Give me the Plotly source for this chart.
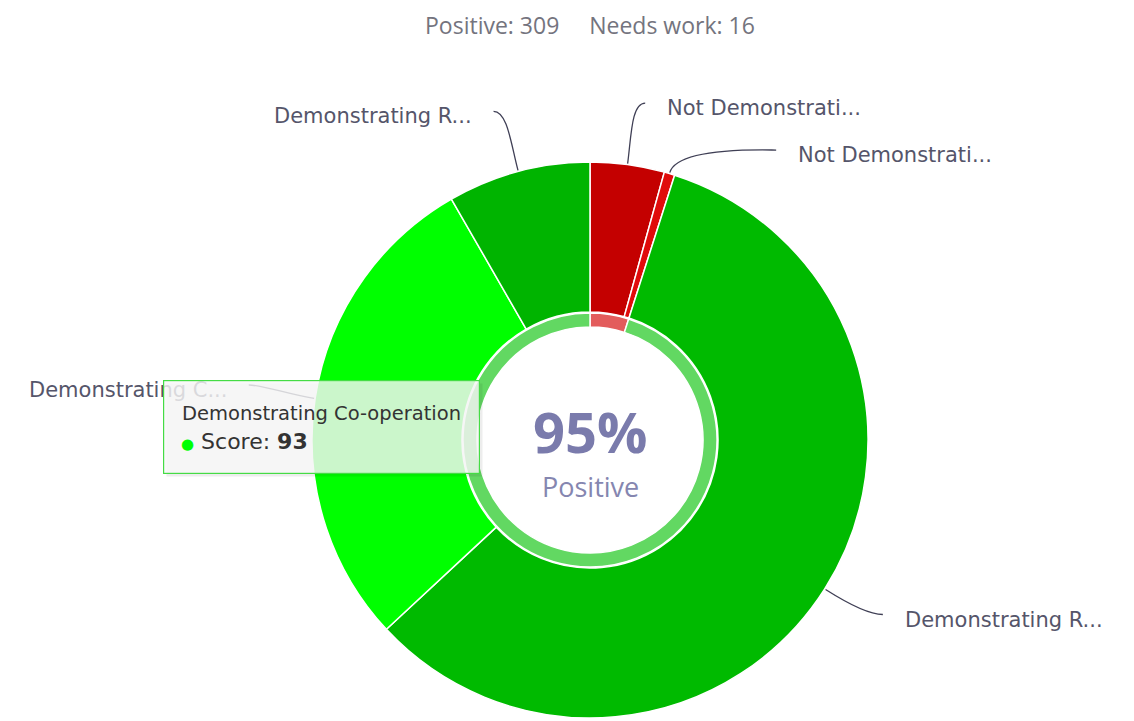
import math
import plotly.graph_objects as go

# slices in drawing order, clockwise from 12 o'clock
categories = ["Not Demonstrati...", "Not Demonstrati...", "Demonstrating R...",
              "Demonstrating C...", "Demonstrating R..."]
scores = [14, 2, 189, 93, 27]
is_positive = [False, False, True, True, True]

# the slice under the mouse in the screenshot
hover_index = 3
hover_name = "Demonstrating Co-operation"

slice_colors = ["#c40000", "#e00b0b", "#00ba00", "#00ff00", "#00b400"]
ring_colors = ["#e35c5c", "#62d862"]  # needs work, positive

# page pixels (the html body has an 8px margin)
PAGE_OFF = 8
W, H = 1134 - PAGE_OFF, 721 - PAGE_OFF
CX, CY = 590, 440
R_OUT, R_HOLE, R_RING_IN = 278, 128, 113
R_LABEL = 335
LABEL_GAP = 47
FONT = "DejaVu Sans"
HEAD_FONT = "Open Sans"
LABEL_COLOR = "#55556a"
CENTER_COLOR = "#7a7bac"


def px(x):
    return (x - PAGE_OFF) / W


def py(y):
    return 1 - (y - PAGE_OFF) / H


total = sum(scores)
n_pos = sum(s for s, p in zip(scores, is_positive) if p)
n_neg = total - n_pos
pct = round(100 * n_pos / total)

fig = go.Figure()

# main donut
fig.add_trace(go.Pie(
    values=scores, sort=False, direction="clockwise", rotation=0,
    hole=R_HOLE / R_OUT,
    marker=dict(colors=slice_colors, line=dict(color="white", width=1.5)),
    textinfo="none", hoverinfo="skip", showlegend=False,
    domain=dict(x=[px(CX - R_OUT), px(CX + R_OUT)], y=[py(CY + R_OUT), py(CY - R_OUT)]),
))
# thin inner ring: needs work vs positive
fig.add_trace(go.Pie(
    values=[n_neg, n_pos], sort=False, direction="clockwise", rotation=0,
    hole=R_RING_IN / (R_HOLE - 1),
    marker=dict(colors=ring_colors, line=dict(color="white", width=1.5)),
    textinfo="none", hoverinfo="skip", showlegend=False,
    domain=dict(x=[px(CX - R_HOLE + 1), px(CX + R_HOLE - 1)],
                y=[py(CY + R_HOLE - 1), py(CY - R_HOLE + 1)]),
))

# label placement (highcharts-like, labels pushed apart vertically)
mids = []
acc = 0
for v in scores:
    mids.append(math.radians((acc + v / 2) / total * 360))
    acc += v

label_y = [CY - R_LABEL * math.cos(a) for a in mids]
for right_side in (True, False):
    idx = [i for i, a in enumerate(mids) if (math.sin(a) >= 0) == right_side]
    idx.sort(key=lambda i: label_y[i])
    for j in range(1, len(idx)):
        label_y[idx[j]] = max(label_y[idx[j]], label_y[idx[j - 1]] + LABEL_GAP)

annotations = []
shapes = []
for i, a in enumerate(mids):
    sgn = 1 if math.sin(a) >= 0 else -1
    ly = label_y[i]
    dy = ly - CY
    lx = CX + sgn * (math.sqrt(max(R_LABEL ** 2 - dy ** 2, 0)) + 10)
    ex, ey = CX + (R_OUT + 1) * math.sin(a), CY - (R_OUT + 1) * math.cos(a)
    bx, by = CX + (R_OUT + 28) * math.sin(a), CY - (R_OUT + 28) * math.cos(a)
    endy = ly - 5
    path = (f"M {px(ex)},{py(ey)} C {px(bx)},{py(by)} "
            f"{px(lx - sgn * 14)},{py(endy)} {px(lx)},{py(endy)}")
    shapes.append(dict(type="path", path=path, xref="paper", yref="paper",
                       line=dict(color="#3f3f55", width=1.3), layer="above"))
    annotations.append(dict(
        text=categories[i], x=px(lx + sgn * 20), y=py(ly), xref="paper", yref="paper",
        xanchor="left" if sgn > 0 else "right", yanchor="middle", showarrow=False,
        font=dict(family=FONT, size=21, color=LABEL_COLOR),
    ))

# heading
annotations.append(dict(
    text=f"Positive: {n_pos}\u00a0\u00a0\u00a0\u00a0\u00a0Needs work: {n_neg}",
    x=px(CX), y=1, xref="paper", yref="paper",
    xanchor="center", yanchor="top", showarrow=False, borderpad=0,
    font=dict(family=HEAD_FONT, size=23, color="#74747e"),
))

# centre text
annotations.append(dict(
    text=f"<b>{pct}%</b>", x=px(CX), y=py(431), xref="paper", yref="paper",
    xanchor="center", yanchor="middle", showarrow=False,
    font=dict(family=HEAD_FONT, size=56, color=CENTER_COLOR),
))
annotations.append(dict(
    text="Positive", x=px(CX), y=py(487), xref="paper", yref="paper",
    xanchor="center", yanchor="middle", showarrow=False,
    font=dict(family=HEAD_FONT, size=27, color="#8586b0"),
))

# tooltip (shadow, box, text)
TIP_L, TIP_T, TIP_W, TIP_H = 163, 380, 317, 94
annotations.append(dict(
    text=" ", x=px(TIP_L + 3), y=py(TIP_T + 3), xref="paper", yref="paper",
    xanchor="left", yanchor="top", showarrow=False, width=TIP_W - 4, height=TIP_H - 4,
    borderpad=1, bgcolor="rgba(0,0,0,0.07)",
))
annotations.append(dict(
    text=" ", x=px(TIP_L), y=py(TIP_T), xref="paper", yref="paper",
    xanchor="left", yanchor="top", showarrow=False, width=TIP_W - 5, height=TIP_H - 5,
    borderpad=1.5, borderwidth=1.2, bordercolor="#45dc45",
    bgcolor="rgba(248,248,248,0.82)",
))
annotations.append(dict(
    text=hover_name, x=px(TIP_L + 17), y=py(413), xref="paper", yref="paper",
    xanchor="left", yanchor="middle", showarrow=False,
    font=dict(family=FONT, size=19.5, color="#333333"),
))
annotations.append(dict(
    text=(f"<span style='color:{slice_colors[hover_index]};font-size:15px'>●</span>"
          f" Score: <b>{scores[hover_index]}</b>"),
    x=px(TIP_L + 16), y=py(441), xref="paper", yref="paper",
    xanchor="left", yanchor="middle", showarrow=False,
    font=dict(family=FONT, size=22, color="#333333"),
))

fig.update_layout(
    width=W, height=H,
    margin=dict(l=0, r=0, t=0, b=0),
    paper_bgcolor="white", plot_bgcolor="white",
    shapes=shapes,
    annotations=annotations,
)

fig.write_html("out.html")
